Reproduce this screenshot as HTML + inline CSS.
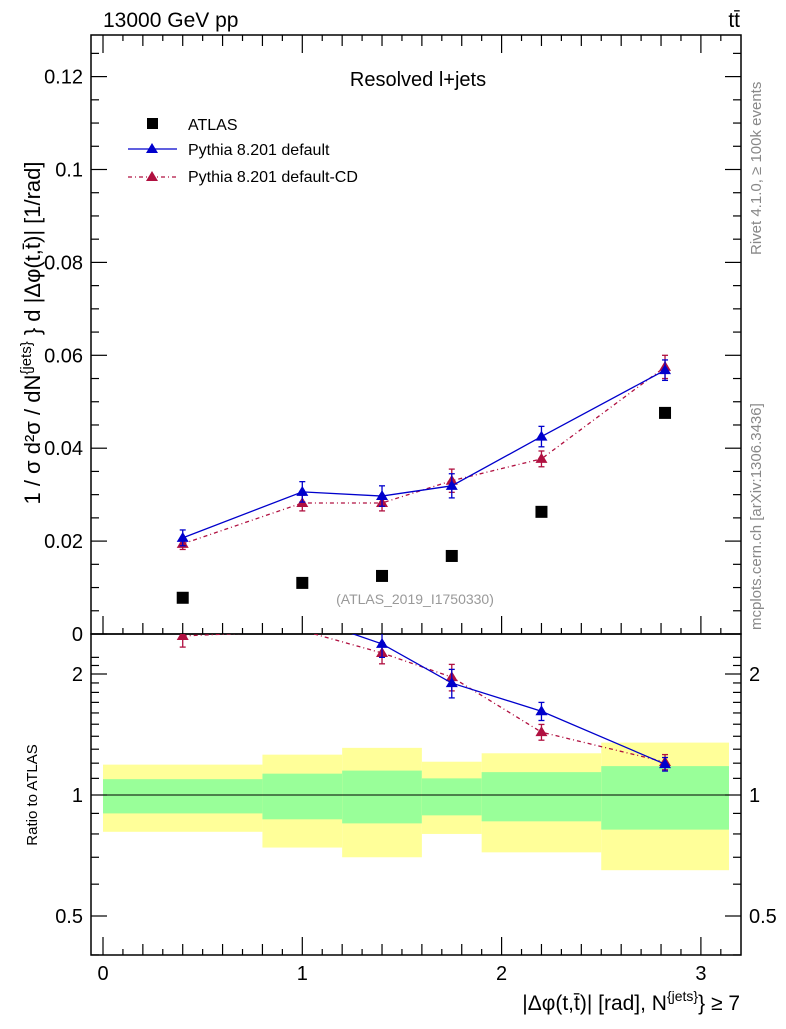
<!DOCTYPE html>
<html><head><meta charset="utf-8"><style>
body{margin:0;background:#fff}
svg text{font-family:"Liberation Sans",sans-serif}
</style></head><body>
<svg id="c" width="786" height="1024" xmlns="http://www.w3.org/2000/svg">
<text x="103" y="27" font-size="21">13000 GeV pp</text>
<text x="740" y="27" font-size="21" text-anchor="end">tt̄</text>
<text x="418" y="86" font-size="20" text-anchor="middle">Resolved l+jets</text>
<text x="415" y="604" font-size="14" fill="#999" text-anchor="middle">(ATLAS_2019_I1750330)</text>
<text transform="translate(761,630) rotate(-90)" font-size="15" fill="#888">mcplots.cern.ch [arXiv:1306.3436]</text>
<text transform="translate(761,255) rotate(-90)" font-size="15" fill="#888">Rivet 4.1.0, ≥ 100k events</text>
<text transform="translate(40,333) rotate(-90)" font-size="22" text-anchor="middle">1 / σ d²σ / dN<tspan dy="-9" font-size="15">{jets}</tspan><tspan dy="9"> } d |Δφ(t,t̄)| [1/rad]</tspan></text>
<text transform="translate(37,795) rotate(-90)" font-size="15" text-anchor="middle">Ratio to ATLAS</text>
<text x="740" y="1010" font-size="21" text-anchor="end">|Δφ(t,t̄)| [rad], N<tspan dy="-9" font-size="14">{jets}</tspan><tspan dy="9">} ≥ 7</tspan></text>
<g id="legend">
<rect x="147" y="118" width="11" height="11" fill="#000"/>
<text x="188" y="130" font-size="16">ATLAS</text>
<line x1="128" y1="149" x2="177" y2="149" stroke="#00c" stroke-width="1.3"/>
<path d="M152,143 L158,153 L146,153Z" fill="#00c"/>
<text x="188" y="155" font-size="16">Pythia 8.201 default</text>
<line x1="128" y1="177" x2="177" y2="177" stroke="#b01040" stroke-width="1.3" stroke-dasharray="4,3,1,3"/>
<path d="M152,171 L158,181 L146,181Z" fill="#b01040"/>
<text x="188" y="182" font-size="16">Pythia 8.201 default-CD</text>
</g>
</svg>
<script>
const xs=[0.4,1.0,1.4,1.75,2.2,2.82];
const atlas=[0.0078,0.0110,0.0125,0.0168,0.0263,0.0476];
const pyDef=[0.0207,0.0306,0.0297,0.0319,0.0425,0.0568];
const pyDefErr=[0.0017,0.0022,0.0022,0.0026,0.0022,0.0022];
const pyCD=[0.0194,0.0282,0.0282,0.0330,0.0377,0.0575];
const pyCDErr=[0.0012,0.0017,0.0017,0.0025,0.0017,0.0025];
const binEdges=[0,0.8,1.2,1.6,1.9,2.5,3.15];
const yelHi=[1.19,1.26,1.31,1.21,1.27,1.35];
const yelLo=[0.81,0.74,0.70,0.80,0.72,0.65];
const grnHi=[1.095,1.13,1.15,1.10,1.14,1.18];
const grnLo=[0.90,0.87,0.85,0.89,0.86,0.82];
const mainTicks=[0,0.02,0.04,0.06,0.08,0.1,0.12];
const mainTickLabels=["0","0.02","0.04","0.06","0.08","0.1","0.12"];
const ratioTicks=[0.5,1,2];
const ratioTickLabels=["0.5","1","2"];
const xTicks=[0,1,2,3];

const svg=document.getElementById('c');const NS="http://www.w3.org/2000/svg";
const L=91,R=741,MT=35,MB=634,RT=634,RB=955;
const X=v=>103+v*199.3;
const Y=v=>634-v*4645;
const YR=r=>795-121*Math.log2(r);
function mk(t,a,parent){const e=document.createElementNS(NS,t);for(const k in a)e.setAttribute(k,a[k]);(parent||svg).appendChild(e);return e;}
const defs=mk('defs',{});
const cp=mk('clipPath',{id:'rc'},defs);mk('rect',{x:L,y:RT,width:R-L,height:RB-RT},cp);
const cpm=mk('clipPath',{id:'mc'},defs);mk('rect',{x:L,y:MT,width:R-L,height:MB-MT},cpm);
for(let i=0;i<binEdges.length-1;i++){
 const x1=X(binEdges[i]),x2=Math.min(X(binEdges[i+1]),R-12);
 const y=mk('rect',{x:x1,y:YR(yelHi[i]),width:x2-x1,height:YR(yelLo[i])-YR(yelHi[i]),fill:'#ffff99'});
 
 const g=mk('rect',{x:x1,y:YR(grnHi[i]),width:x2-x1,height:YR(grnLo[i])-YR(grnHi[i]),fill:'#99ff99'});
 
}
const one=mk('line',{x1:X(0),x2:R-12,y1:YR(1),y2:YR(1),stroke:'#000','stroke-width':1});

const f1=mk('rect',{x:L,y:MT,width:R-L,height:MB-MT,fill:'none',stroke:'#000','stroke-width':1.5});

const f2=mk('rect',{x:L,y:RT,width:R-L,height:RB-RT,fill:'none',stroke:'#000','stroke-width':1.5});

for(let v=0;v<=0.1301;v+=0.005){const y=Y(v);if(y<MT)break;const maj=Math.abs(v/0.02-Math.round(v/0.02))<1e-6;const len=maj?16:8;
 mk('line',{x1:L,x2:L+len,y1:y,y2:y,stroke:'#000','stroke-width':1.2});mk('line',{x1:R,x2:R-len,y1:y,y2:y,stroke:'#000','stroke-width':1.2});}
mainTicks.forEach((v,i)=>{const t=mk('text',{x:L-8,y:Y(v)+7,'font-size':20,'text-anchor':'end'});t.textContent=mainTickLabels[i];
 });
for(let k=0;k<=31;k++){const v=k*0.1;const x=X(v);if(x>R)break;const len=(k%10==0)?18:(k%2==0?11:6);
 [MB,RB].forEach(b=>mk('line',{x1:x,x2:x,y1:b,y2:b-len,stroke:'#000','stroke-width':1.2}));
 mk('line',{x1:x,x2:x,y1:MT,y2:MT+len,stroke:'#000','stroke-width':1.2});}
xTicks.forEach(v=>{const t=mk('text',{x:X(v),y:980,'font-size':20,'text-anchor':'middle'});t.textContent=v;
 });
for(let r=0.4;r<=2.3;r+=0.1){const y=YR(r);if(y<RT||y>RB)continue;const maj=ratioTicks.some(t=>Math.abs(t-r)<1e-6);const len=maj?16:8;
 mk('line',{x1:L,x2:L+len,y1:y,y2:y,stroke:'#000','stroke-width':1.2});mk('line',{x1:R,x2:R-len,y1:y,y2:y,stroke:'#000','stroke-width':1.2});}
ratioTicks.forEach((v,i)=>{[[L-8,'end'],[R+8,'start']].forEach(([x,a])=>{const t=mk('text',{x:x,y:YR(v)+7,'font-size':20,'text-anchor':a});t.textContent=ratioTickLabels[i];
 });});
function series(vals,errs,col,dash,name,fy,clip,top){
 const g=mk('g',{'clip-path':'url(#'+clip+')'});
 
 const pts=xs.map((x,i)=>X(x)+','+fy(vals[i],i)).join(' ');
 const pl=mk('polyline',{points:pts,fill:'none',stroke:col,'stroke-width':1.3},g);if(dash)pl.setAttribute('stroke-dasharray',dash);
 xs.forEach((x,i)=>{const cx=X(x),cy=fy(vals[i],i);
  if(cy<top)return;
  const y1=fy(vals[i]+errs[i],i),y2=fy(vals[i]-errs[i],i);
  mk('line',{x1:cx,x2:cx,y1:y1,y2:y2,stroke:col,'stroke-width':1.3},g);
  mk('line',{x1:cx-3,x2:cx+3,y1:y1,y2:y1,stroke:col,'stroke-width':1.3},g);
  mk('line',{x1:cx-3,x2:cx+3,y1:y2,y2:y2,stroke:col,'stroke-width':1.3},g);
  const m=mk('path',{d:`M${cx},${cy-6} L${cx+6},${cy+4} L${cx-6},${cy+4}Z`,fill:col},g);
  });
}
series(pyCD,pyCDErr,'#b01040','4,3,1,3','series-default-cd',v=>Y(v),'mc',MT);
series(pyDef,pyDefErr,'#0000cc',null,'series-default',v=>Y(v),'mc',MT);
series(pyCD,pyCDErr,'#b01040','4,3,1,3','ratio-default-cd',(v,i)=>YR(v/atlas[i]),'rc',RT);
series(pyDef,pyDefErr,'#0000cc',null,'ratio-default',(v,i)=>YR(v/atlas[i]),'rc',RT);
xs.forEach((x,i)=>{const r=mk('rect',{x:X(x)-6,y:Y(atlas[i])-6,width:12,height:12,fill:'#000'});
 });
svg.appendChild(document.getElementById('legend'));
</script>
</body></html>
